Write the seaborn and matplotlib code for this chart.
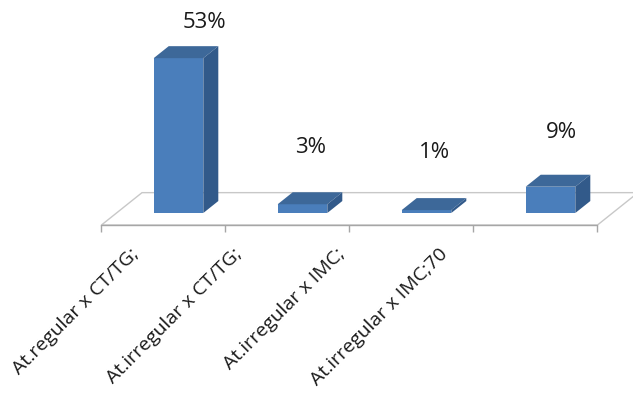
import numpy as np
import matplotlib
matplotlib.use("Agg")
import matplotlib.pyplot as plt
from matplotlib.patches import Polygon
import seaborn as sns

categories = ["At.regular x CT/TG;", "At.irregular x CT/TG;", "At.irregular x IMC;", "At.irregular x IMC;70"]
values = [53, 3, 1, 9]
value_labels = ["53%", "3%", "1%", "9%"]

sns.set_theme(style="white")
plt.rcParams['font.family'] = ['Open Sans', 'DejaVu Sans']

front_c = "#4A7EBB"
top_c = "#3D6899"
side_c = "#325A8A"

fig = plt.figure(figsize=(6.33, 3.98), dpi=100)
ax = fig.add_axes([0, 0.4347, 1, 0.5653])

n = len(categories)
dx, dy = 0.121, 4.1  # depth vector (category units, % units)

sns.barplot(x=categories, y=values, width=0.4, color=front_c, saturation=1,
            ax=ax, zorder=3, edgecolor="none")

# floor outline
fx0, fx1 = -0.5, n - 0.5
floor = Polygon([(fx0 - dx, -dy), (fx1 - dx, -dy), (fx1 + 1.7 * dx, 1.7 * dy), (fx0 + 1.7 * dx, 1.7 * dy)],
                closed=True, facecolor="white", edgecolor="#C8C8C8", lw=1.0, zorder=1)
ax.add_patch(floor)

# 3D faces
for p in ax.patches[:]:
    if p is floor:
        continue
    x0, w, h = p.get_x(), p.get_width(), p.get_height()
    x1 = x0 + w
    top = Polygon([(x0, h), (x1, h), (x1 + dx, h + dy), (x0 + dx, h + dy)], closed=True,
                  facecolor=top_c, edgecolor="none", zorder=3)
    side = Polygon([(x1, 0), (x1 + dx, dy), (x1 + dx, h + dy), (x1, h)], closed=True,
                   facecolor=side_c, edgecolor="none", zorder=3)
    ax.add_patch(top)
    ax.add_patch(side)

# value labels
for k, (v, lab) in enumerate(zip(values, value_labels)):
    ax.text(k + dx * 0.5 + v * 0.0028, v * 0.85 + 20, lab, ha="center", va="center",
            fontsize=16, color="#1a1a1a")

ax.set_xlim(-178.5 / 124, (633 - 178.5) / 124)
ax.set_ylim(-dy, 72.9)
ax.set_yticks([])
for s in ["top", "right", "left"]:
    ax.spines[s].set_visible(False)
ax.spines["bottom"].set_color("#A6A6A6")
ax.spines["bottom"].set_linewidth(1.0)
ax.spines["bottom"].set_bounds(fx0 - dx, fx1 - dx)

# tick marks at category boundaries on the floor front edge
ax.set_xticks(np.arange(n + 1) - 0.5 - dx, minor=True)
ax.tick_params(axis="x", which="minor", length=5, width=1, color="#A6A6A6", direction="out", bottom=True)

label_pos = np.arange(n) * 0.83 - 0.34
ax.set_xticks(label_pos)
ax.set_xticklabels(categories, rotation=45, ha="right", va="center", rotation_mode="anchor",
                   fontsize=14, color="#1a1a1a")
ax.tick_params(axis="x", which="major", length=0, pad=19)
ax.set_xlabel("")
ax.set_ylabel("")

fig.savefig("out.png", dpi=100)
